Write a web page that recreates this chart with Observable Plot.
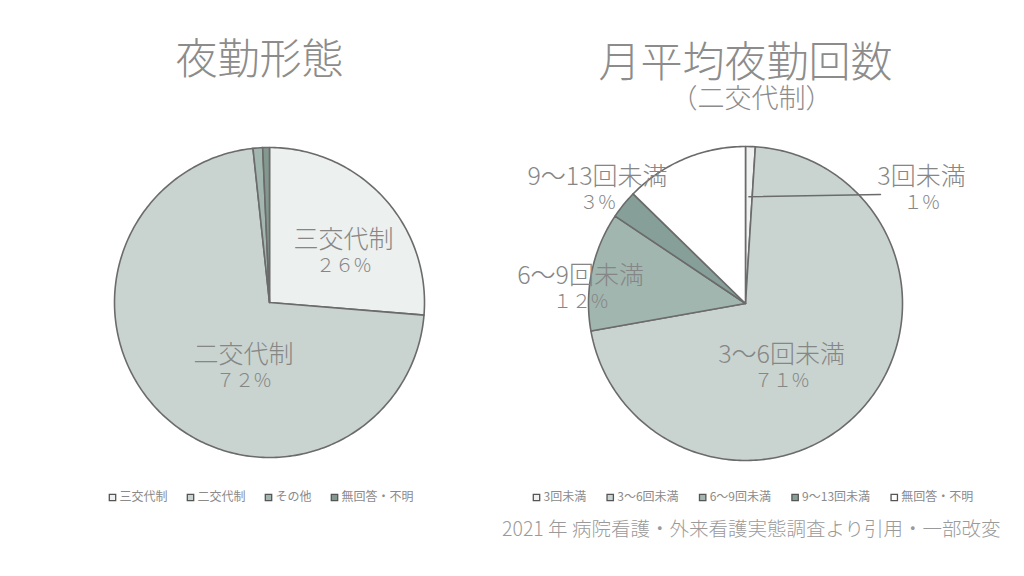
<!DOCTYPE html>
<html>
<head>
<meta charset="utf-8">
<script src="https://cdn.jsdelivr.net/npm/d3@7"></script>
<script src="https://cdn.jsdelivr.net/npm/@observablehq/plot@0.6"></script>
<style>
  html, body { margin: 0; padding: 0; background: #ffffff; }
  #chart svg { display: block; }
</style>
</head>
<body>
<div id="chart"></div>
<script>
// ---- data ----
const leftTitle = "夜勤形態";
const leftCategories = ["三交代制", "二交代制", "その他", "無回答・不明"];
const leftValues = [26.3, 72.0, 1.0, 0.7];
const leftLabels = ["三交代制", "二交代制"];
const leftPercentText = ["２６%", "７２%"];

const rightTitle = "月平均夜勤回数";
const rightSubtitle = "（二交代制）";
const rightCategories = ["3回未満", "3～6回未満", "6～9回未満", "9～13回未満", "無回答・不明"];
const rightValues = [1.0, 71.2, 12.2, 2.9, 12.7];
const rightLabels = ["3回未満", "3～6回未満", "6～9回未満", "9～13回未満"];
const rightPercentText = ["１%", "７１%", "１２%", "３%"];

const caption = "2021 年 病院看護・外来看護実態調査より引用・一部改変";

// ---- styles ----
const leftPalette = ["#ecf0ee", "#c9d4d0", "#a3b7b1", "#83998f"];
const rightPalette = ["#eef1f0", "#c9d4d0", "#a2b6b0", "#869f99", "#ffffff"];
const textColor = "#868686";
const font = "'Noto Sans CJK JP', 'Noto Sans', sans-serif";

// ---- geometry helpers (layout) ----
const W = 1024, H = 576;
const leftPie = {cx: 269, cy: 302, r: 155};
const rightPie = {cx: 745, cy: 303, r: 157};

function pieSlices(cats, vals, prefix, pie) {
  const arcs = d3.pie().sort(null).value(d => d)(vals);
  const pts = [];
  arcs.forEach((a, i) => {
    const key = prefix + cats[i];
    const n = Math.max(2, Math.ceil((a.endAngle - a.startAngle) / (Math.PI / 180)));
    pts.push({key, x: pie.cx, y: pie.cy});
    for (let k = 0; k <= n; k++) {
      const t = a.startAngle + (a.endAngle - a.startAngle) * k / n;
      pts.push({key, x: pie.cx + pie.r * Math.sin(t), y: pie.cy - pie.r * Math.cos(t)});
    }
    pts.push({key, x: pie.cx, y: pie.cy});
  });
  return {pts, arcs};
}

const L = pieSlices(leftCategories, leftValues, "L:", leftPie);
const R = pieSlices(rightCategories, rightValues, "R:", rightPie);

const colorDomain = [
  ...leftCategories.map(c => "L:" + c),
  ...rightCategories.map(c => "R:" + c)
];
const colorRange = [...leftPalette, ...rightPalette];

// label anchors (layout)
const leftLabelPos = [[343, 239], [243, 354]];
const rightLabelPos = [[921, 176], [781, 354], [580, 275], [597, 176]];

const labelData = [
  ...leftLabels.map((t, i) => ({t, p: leftPercentText[i], x: leftLabelPos[i][0], y: leftLabelPos[i][1]})),
  ...rightLabels.map((t, i) => ({t, p: rightPercentText[i], x: rightLabelPos[i][0], y: rightLabelPos[i][1]}))
];

// leader line for the 1% slice
const a0 = R.arcs[0];
const mid = (a0.startAngle + a0.endAngle) / 2;
const leader = [
  {x: rightPie.cx + rightPie.r * 0.68 * Math.sin(mid), y: rightPie.cy - rightPie.r * 0.68 * Math.cos(mid)},
  {x: 880, y: 194}
];

// legends
function charW(s, fs) {
  let w = 0;
  for (const ch of s) w += ch.charCodeAt(0) > 255 ? fs : fs * 0.56;
  return w;
}
function legendItems(cats, prefix, startX, y, fs, gap) {
  let x = startX;
  return cats.map(c => {
    const item = {key: prefix + c, label: c, sx: x + 4, tx: x + 11, y};
    x += 11 + charW(c, fs) + gap;
    return item;
  });
}
const legFs = 12;
const leftLegend = legendItems(leftCategories, "L:", 108, 497, legFs, 19);
const rightLegend = legendItems(rightCategories, "R:", 532, 497, legFs, 20);
const legend = [...leftLegend, ...rightLegend];

const chart = Plot.plot({
  width: W,
  height: H,
  margin: 0,
  x: {domain: [0, W], range: [0, W], axis: null},
  y: {domain: [0, H], range: [0, H], axis: null},
  color: {domain: colorDomain, range: colorRange},
  style: {fontFamily: font, background: "#ffffff"},
  marks: [
    Plot.line(L.pts, {x: "x", y: "y", z: "key", fill: "key", stroke: "#6b6b6b", strokeWidth: 1.6, strokeLinejoin: "round"}),
    Plot.line(R.pts, {x: "x", y: "y", z: "key", fill: "key", stroke: "#6b6b6b", strokeWidth: 1.6, strokeLinejoin: "round"}),
    Plot.line(leader, {x: "x", y: "y", stroke: "#6b6b6b", strokeWidth: 1.4}),
    // titles
    Plot.text([leftTitle], {x: () => 259, y: () => 60, text: d => d, fontSize: 42, fill: "#8c8c8c", fontFamily: font, fontWeight: 300}),
    Plot.text([rightTitle], {x: () => 745, y: () => 63, text: d => d, fontSize: 42, fill: "#8c8c8c", fontFamily: font, fontWeight: 300}),
    Plot.text([rightSubtitle], {x: () => 751, y: () => 99, text: d => d, fontSize: 27, fill: "#8c8c8c", fontFamily: font, fontWeight: 300}),
    // slice labels
    Plot.text(labelData, {x: "x", y: "y", text: "t", fontSize: 25, fill: textColor, fontFamily: font, fontWeight: 300}),
    Plot.text(labelData, {x: "x", y: d => d.y + 26, text: "p", fontSize: 19, fill: textColor, fontFamily: font, fontWeight: 300}),
    // legends
    Plot.dot(legend, {x: "sx", y: "y", symbol: "square", r: 3.6, fill: "key", stroke: "#555", strokeWidth: 1.3}),
    Plot.text(legend, {x: "tx", y: "y", text: "label", textAnchor: "start", fontSize: legFs, fill: "#8a8a8a", fontFamily: font}),
    // caption
    Plot.text([caption], {x: () => 1000, y: () => 529, text: d => d, textAnchor: "end", fontSize: 19.5, fill: "#9a9a9a", fontFamily: font, fontWeight: 300})
  ]
});
document.getElementById("chart").appendChild(chart);
</script>
</body>
</html>
